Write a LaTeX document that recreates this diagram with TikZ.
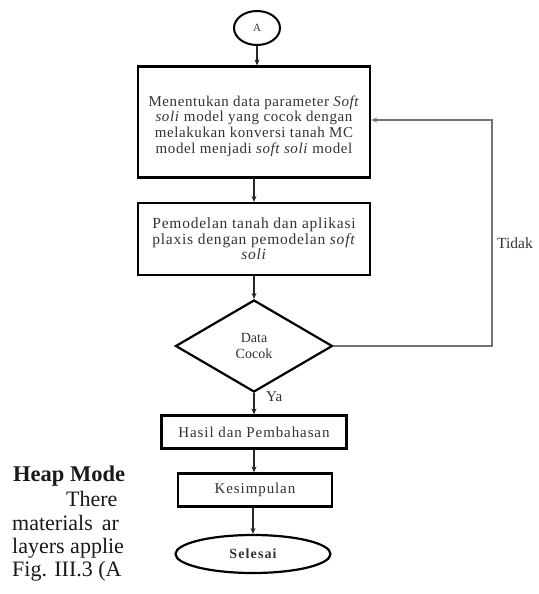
\documentclass[tikz,border=0pt]{standalone}
\usepackage{fontspec}
\setmainfont{Liberation Serif}
\usetikzlibrary{shapes.geometric,arrows.meta}
\tikzset{
  boxnode/.style={draw=black, line width=2.2pt, rectangle, align=center, inner sep=2pt, text=black!80},
  boxtext/.style={align=center, inner sep=0pt, text=black!80},
  conn/.style={draw=black!85, line width=1.5pt, -{Stealth[length=6pt,width=5pt]}},
  fback/.style={draw=black!55, line width=1.8pt, -{Stealth[length=6pt,width=5pt]}},
  plain/.style={font=\fontsize{15}{17}\selectfont, text=black!80, inner sep=0pt},
  bodytext/.style={font=\fontsize{22}{23}\selectfont, text=black!90, anchor=base west, inner sep=0pt}
}
\begin{document}
\begin{tikzpicture}[x=1pt,y=-1pt]
\useasboundingbox[fill=white] (0,0) rectangle (538,594);
% nodes
\node[draw=black, line width=2pt, ellipse, minimum width=46pt, minimum height=34pt, inner sep=0pt, font=\fontsize{11}{12}\selectfont, text=black!80] (A) at (257,28) {A};
\node[boxnode, minimum width=232pt, minimum height=111pt] (b1) at (254,122) {};
\node[boxtext, font=\fontsize{15}{15.7}\selectfont\addfontfeature{LetterSpace=4}] (b1t) at (254,126)
  {Menentukan data parameter \textit{Soft}\\ \textit{soli} model yang cocok dengan\\ melakukan konversi tanah MC\\ model menjadi \textit{soft soli} model};
\node[boxnode, minimum width=232pt, minimum height=72pt, font=\fontsize{15.5}{15.5}\selectfont\addfontfeature{LetterSpace=5}] (b2) at (254,239)
  {Pemodelan tanah dan aplikasi\\ plaxis dengan pemodelan \textit{soft}\\ \textit{soli}};
\node[draw=black, line width=2.2pt, diamond, minimum width=157pt, minimum height=92pt, inner sep=0pt, align=center, font=\fontsize{14}{16}\selectfont, text=black!80] (d) at (254,346) {Data\\Cocok};
\node[boxnode, minimum width=185pt, minimum height=33pt, font=\fontsize{15}{16}\selectfont\addfontfeature{LetterSpace=6}] (b3) at (254,432) {Hasil dan Pembahasan};
\node[boxnode, minimum width=154pt, minimum height=33pt, font=\fontsize{15}{16}\selectfont\addfontfeature{LetterSpace=6}] (b4) at (255,490) {Kesimpulan};
\node[draw=black, line width=2.2pt, ellipse, minimum width=155pt, minimum height=38pt, inner sep=0pt, font=\bfseries\fontsize{14}{15}\selectfont\addfontfeature{LetterSpace=8}, text=black!80] (e) at (253,554) {Selesai};
% connectors
\draw[conn] (A) -- (A |- b1.north);
\draw[conn] (b1) -- (b2);
\draw[conn] (b2) -- (d);
\draw[conn] (d) -- (b3);
\draw[conn] (b3) -- (b3 |- b4.north);
\draw[conn] (b4.south -| e) -- (e);
\coordinate (fbc) at (492,346);
\draw[fback] (d.east) -- (fbc) |- ([yshift=2pt]b1.east);
% labels
\node[plain, font=\fontsize{15.5}{17}\selectfont, anchor=west] (tidak) at (497,243) {Tidak};
\node[plain, anchor=west] (ya) at (266,397) {Ya};
% left body text
\node[bodytext, font=\bfseries\fontsize{22.5}{24}\selectfont] (t1) at (13,481) {Heap Mode};
\node[bodytext] (t2) at (66,506) {There};
\node[bodytext] (t3) at (12,530) {materials\hspace{9pt}ar};
\node[bodytext] (t4) at (12,553) {layers applie};
\node[bodytext] (t5) at (12,576) {Fig. III.3 (A};
\end{tikzpicture}
\end{document}
